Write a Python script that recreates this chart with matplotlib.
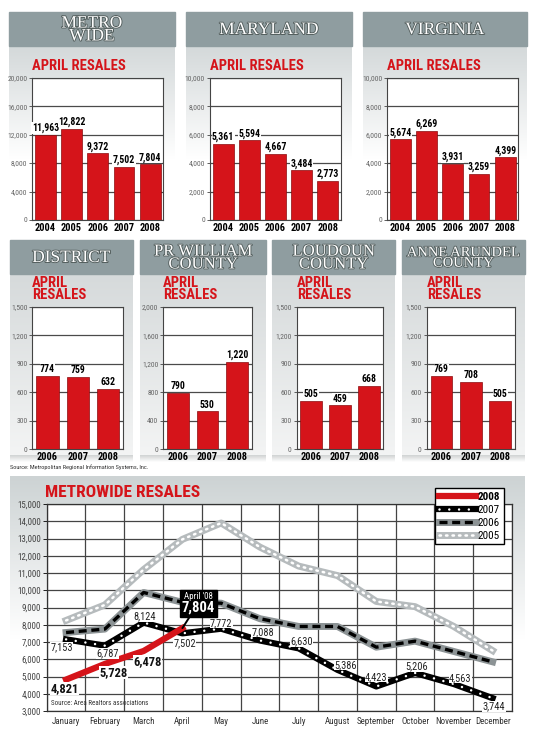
"""April resales by jurisdiction plus the metrowide monthly resale lines."""

import matplotlib
import numpy as np

matplotlib.use("Agg")

from matplotlib import font_manager
from matplotlib import patheffects as pe
from matplotlib import pyplot as plt
from matplotlib import transforms
from matplotlib.colors import to_rgb
from matplotlib.offsetbox import AnnotationBbox, TextArea, VPacker
from matplotlib.patches import Rectangle

W, H = 534, 745

YEARS_TOP = ["2004", "2005", "2006", "2007", "2008"]
METRO_WIDE = [11963, 12822, 9372, 7502, 7804]
MARYLAND = [5361, 5594, 4667, 3484, 2773]
VIRGINIA = [5674, 6269, 3931, 3259, 4399]

YEARS_MID = ["2006", "2007", "2008"]
DISTRICT = [774, 759, 632]
PR_WILLIAM = [790, 530, 1220]
LOUDOUN = [505, 459, 668]
ANNE_ARUNDEL = [769, 708, 505]

MONTHS = ["January", "February", "March", "April", "May", "June", "July",
          "August", "September", "October", "November", "December"]
RESALES_2008 = [4821, 5728, 6478, 7804]
RESALES_2007 = [7153, 6787, 8124, 7502, 7772, 7088, 6630, 5386, 4423, 5206, 4563, 3744]
RESALES_2006 = [7550, 7750, 9870, 9300, 9250, 8350, 7900, 7900, 6700, 7050, 6450, 5850]
RESALES_2005 = [8250, 9150, 11200, 12950, 13900, 12500, 11400, 10850, 9350, 9050, 7900, 6500]

# label offsets in points (placement only)
OFFSETS_2007 = [(-3, -6), (2, -5.5), (1, 4.5), (1.5, -7), (0, 4), (2, 6),
                (2, 5), (6, 3.5), (0, 7), (1, 4.5), (4.5, 4.5), (1, -6)]
OFFSETS_2008 = [(-1, -6.5), (6, -6), (2.5, -7.5)]

RED = "#d5141a"
HEADER = "#8f9da0"
SERIF = ["Liberation Serif", "DejaVu Serif"]


def pick_narrow():
    fonts = font_manager.fontManager.ttflist
    names = {f.name for f in fonts}
    for name in ["Liberation Sans Narrow", "Roboto Condensed", "Open Sans Condensed",
                 "Noto Sans Condensed", "DejaVu Sans Condensed"]:
        if name in names:
            return dict(family=name), 1.0
    for f in fonts:
        if f.name == "DejaVu Sans" and str(f.stretch) in ("condensed", "semi-condensed"):
            return dict(family="DejaVu Sans", stretch="condensed"), 1.0
    return dict(family="Liberation Sans"), 0.9


NARROW, SHRINK = pick_narrow()
plt.rcParams["font.family"] = NARROW["family"]
if "stretch" in NARROW:
    plt.rcParams["font.stretch"] = NARROW["stretch"]


def fs(size):
    return size * SHRINK


def rect(x0, y0, x1, y1):
    return [x0 / W, 1 - y1 / H, (x1 - x0) / W, (y1 - y0) / H]


def gradient(bg, x0, y0, x1, y1, top, bottom):
    t = np.linspace(0, 1, 64)[:, None]
    img = (1 - t) * np.array(to_rgb(top)) + t * np.array(to_rgb(bottom))
    bg.imshow(img.reshape(64, 1, 3), extent=(x0, x1, y1, y0), aspect="auto",
              interpolation="bilinear", zorder=0)


def header(bg, x0, y0, x1, y1, text, size=11.5):
    bg.add_patch(Rectangle((x0, y0), x1 - x0, y1 - y0, color=HEADER, zorder=1))
    bg.text((x0 + x1) / 2, (y0 + y1) / 2 + 1, text, ha="center", va="center",
            family=SERIF, size=size, color="white", linespacing=0.74, zorder=2,
            path_effects=[pe.withStroke(linewidth=1.3, foreground="#55605f")])


def bar_panel(fig, box, years, values, ymax, step, title, title_y, width=0.8):
    ax = fig.add_axes(rect(*box))
    x = np.arange(len(years))
    ax.bar(x, values, width=width, color=RED, edgecolor="#8b0b0e", linewidth=0.5, zorder=3)
    for xi, v in zip(x, values):
        ax.text(xi, v + ymax * 0.012, f"{v:,}", ha="center", va="bottom", size=fs(7),
                weight="bold", zorder=4,
                bbox=dict(facecolor="white", edgecolor="none", pad=0.3))
    ax.set_xlim(-0.5, len(years) - 0.5)
    ax.set_ylim(0, ymax)
    ticks = np.arange(0, ymax + 1, step)
    ax.set_yticks(ticks)
    ax.set_yticklabels([f"{t:,}" for t in ticks])
    ax.set_xticks(x, years)
    ax.yaxis.grid(True, color="#4a4a4a", linewidth=0.9)
    ax.set_axisbelow(True)
    ax.tick_params(axis="y", length=2.5, width=0.6, color="#444", labelsize=fs(5.5),
                   labelcolor="#666", pad=1)
    ax.tick_params(axis="x", length=0, labelsize=fs(7.5), pad=2)
    for lab in ax.get_xticklabels():
        lab.set_fontweight("bold")
    for s in ax.spines.values():
        s.set_color("#444")
        s.set_linewidth(0.8)
    fig.text(box[0] / W, 1 - title_y / H, title, ha="left", va="bottom", size=fs(10.5),
             weight="bold", color=RED, linespacing=0.85)
    return ax


fig = plt.figure(figsize=(W / 100, H / 100), dpi=100)
bg = fig.add_axes([0, 0, 1, 1])

# panel backgrounds
for x0, x1 in [(9, 175), (186, 352), (363, 527)]:
    gradient(bg, x0, 46, x1, 160, "#d4d9da", "#ffffff")
for x0, x1 in [(10, 133), (140, 266), (272, 395), (402, 525)]:
    gradient(bg, x0, 274, x1, 455, "#d6dadb", "#f3f4f4")
    gradient(bg, x0, 455, x1, 462, "#cfd2d2", "#ffffff")
gradient(bg, 10, 476, 525, 640, "#cdd3d4", "#ffffff")

header(bg, 9, 12, 175, 46, "METRO\nWIDE", size=12.5)
header(bg, 186, 12, 352, 46, "MARYLAND", size=12.5)
header(bg, 363, 12, 527, 46, "VIRGINIA", size=12.5)
header(bg, 10, 240, 133, 274, "DISTRICT", size=12.5)
header(bg, 140, 240, 266, 274, "PR WILLIAM\nCOUNTY", size=12)
header(bg, 272, 240, 395, 274, "LOUDOUN\nCOUNTY", size=12)
header(bg, 402, 240, 525, 274, "ANNE ARUNDEL\nCOUNTY", size=10.5)

bg.set_xlim(0, W)
bg.set_ylim(H, 0)
bg.axis("off")

bar_panel(fig, (32.3, 77.7, 163.3, 220), YEARS_TOP, METRO_WIDE, 20000, 4000, "APRIL RESALES", 73)
bar_panel(fig, (210, 77.7, 340.7, 220), YEARS_TOP, MARYLAND, 10000, 2000, "APRIL RESALES", 73)
bar_panel(fig, (387.3, 77.7, 518.3, 220), YEARS_TOP, VIRGINIA, 10000, 2000, "APRIL RESALES", 73)

bar_panel(fig, (32.3, 306.7, 123.3, 449), YEARS_MID, DISTRICT, 1500, 300, "APRIL\nRESALES", 302, 0.74)
bar_panel(fig, (163.3, 306.7, 251.7, 449), YEARS_MID, PR_WILLIAM, 2000, 400, "APRIL\nRESALES", 302, 0.74)
bar_panel(fig, (296.7, 306.7, 383.3, 449), YEARS_MID, LOUDOUN, 1500, 300, "APRIL\nRESALES", 302, 0.74)
bar_panel(fig, (426.7, 306.7, 515, 449), YEARS_MID, ANNE_ARUNDEL, 1500, 300, "APRIL\nRESALES", 302, 0.74)

fig.text(10 / W, 1 - 467 / H, "Source: Metropolitan Regional Information Systems, Inc.",
         size=fs(4.5), color="#333", va="center")

# metrowide monthly lines
ax = fig.add_axes(rect(46.7, 504, 512, 711))
m = np.arange(len(MONTHS))

l05 = ax.plot(m, RESALES_2005, color="#b6bbbd", lw=5, solid_joinstyle="round", zorder=2)[0]
d05 = ax.plot(m, RESALES_2005, color="white", lw=1.8, dashes=(0.6, 2.0),
              dash_capstyle="round", zorder=2.1)[0]
l06 = ax.plot(m, RESALES_2006, color="#8c9395", lw=5, solid_joinstyle="round", zorder=3)[0]
d06 = ax.plot(m, RESALES_2006, color="black", lw=2.4, dashes=(2.4, 1.4), zorder=3.1)[0]
l07 = ax.plot(m, RESALES_2007, color="black", lw=4.5, solid_joinstyle="round", zorder=4)[0]
d07 = ax.plot(m, RESALES_2007, color="white", lw=1.8, dashes=(0.01, 3.9),
              dash_capstyle="round", zorder=4.1)[0]
l08 = ax.plot(m[:len(RESALES_2008)], RESALES_2008, color=RED, lw=4.5, zorder=5)[0]


def point_label(xi, v, off, **kw):
    tr = transforms.offset_copy(ax.transData, fig=fig, x=off[0], y=off[1], units="points")
    ax.text(xi, v, f"{v:,}", transform=tr, ha="center", va="center", zorder=6,
            bbox=dict(facecolor="white", edgecolor="none", pad=0.2), **kw)


for xi, v, off in zip(m, RESALES_2007, OFFSETS_2007):
    point_label(xi, v, off, size=fs(7.5), color="#222")
for xi, v, off in zip(m, RESALES_2008[:3], OFFSETS_2008):
    point_label(xi, v, off, size=fs(9), weight="bold", color="#111")

callout = VPacker(children=[
    TextArea("April '08", textprops=dict(color="white", size=fs(6.5))),
    TextArea(f"{RESALES_2008[3]:,}", textprops=dict(color="white", size=fs(10.5), weight="bold")),
], align="center", pad=0, sep=0)
ab = AnnotationBbox(callout, (3, RESALES_2008[3]), xybox=(11.5, 18), xycoords="data",
                    boxcoords="offset points", frameon=True, pad=0.15,
                    bboxprops=dict(facecolor="black", edgecolor="black", boxstyle="square,pad=0.15"),
                    arrowprops=dict(arrowstyle="-", color="black", lw=1.4, shrinkA=0, shrinkB=0),
                    zorder=7)
ax.add_artist(ab)

ax.set_xlim(-0.5, len(MONTHS) - 0.5)
ax.set_ylim(3000, 15000)
yt = np.arange(3000, 15001, 1000)
ax.set_yticks(yt)
ax.set_yticklabels([f"{t:,}" for t in yt])
ax.set_xticks(m, MONTHS)
ax.set_xticks(np.arange(-0.5, len(MONTHS)), minor=True)
ax.grid(which="minor", axis="x", color="#444", lw=0.9)
ax.grid(which="major", axis="y", color="#444", lw=0.9)
ax.tick_params(axis="x", which="both", length=0, labelsize=fs(6.5), labelcolor="#333", pad=4)
ax.tick_params(axis="y", length=3, width=0.6, labelsize=fs(6.5), labelcolor="#444", pad=1)
for s in ax.spines.values():
    s.set_color("#333")
    s.set_linewidth(0.9)
ax.text(0.01, 0.02, "Source: Area Realtors associations", transform=ax.transAxes,
        size=fs(5), color="#333", va="bottom", zorder=6)

fig.text(45 / W, 1 - 500 / H, "METROWIDE RESALES", size=fs(12.5), weight="bold", color=RED,
         va="bottom", ha="left")

handles = [(l08,), (l07, d07), (l06, d06), (l05, d05)]
leg = ax.legend(handles, ["2008", "2007", "2006", "2005"], loc="upper right",
                bbox_to_anchor=(504.3 / W, 1 - 488.3 / H), bbox_transform=fig.transFigure,
                fancybox=False, framealpha=1, edgecolor="black", fontsize=fs(8),
                handlelength=3.3, handletextpad=0.2, labelspacing=0.25,
                borderpad=0.35, borderaxespad=0)
leg.get_frame().set_linewidth(1.0)
leg.set_zorder(8)
leg.get_texts()[0].set_fontweight("bold")

fig.savefig("out.png", dpi=100)
